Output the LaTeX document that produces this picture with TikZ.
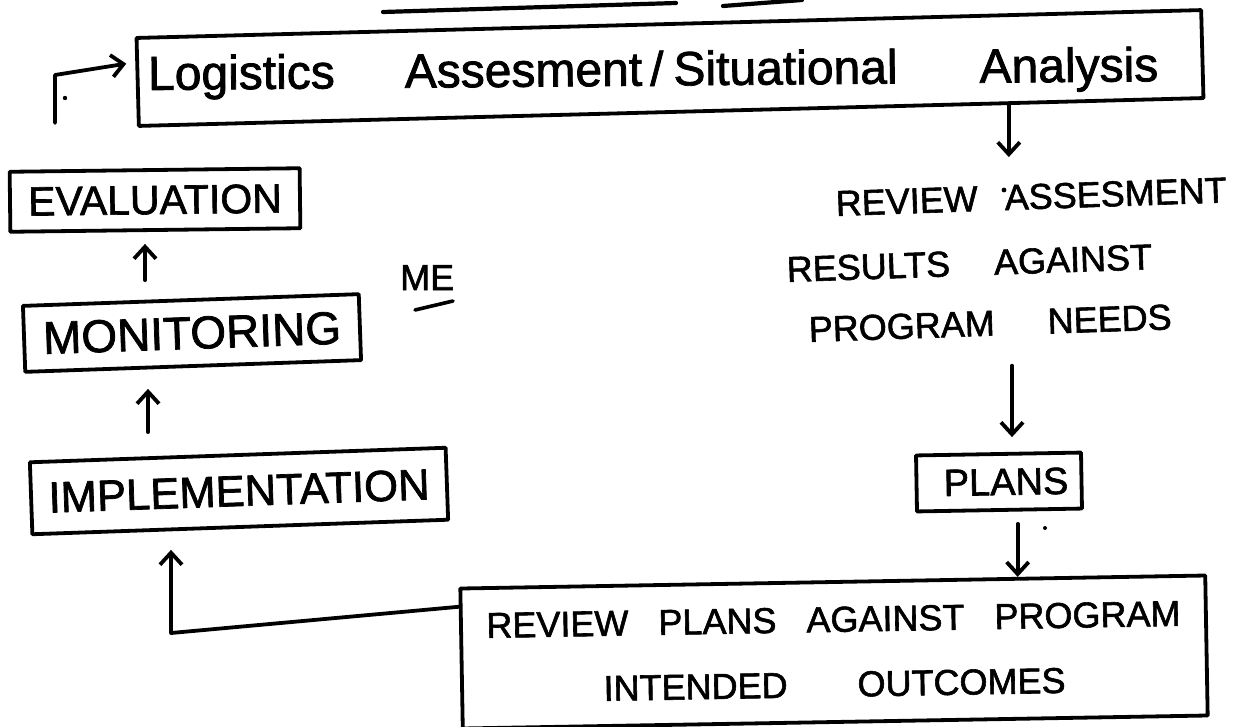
\documentclass[tikz,border=0pt]{standalone}
\usepackage{fontspec}
\setmainfont{Liberation Sans}[BoldFont={Liberation Sans},BoldFeatures={FakeBold=1.6}]
\usetikzlibrary{arrows.meta,calc}
\newcommand\fsz[1]{\fontsize{#1pt}{#1pt}\selectfont\bfseries}
\begin{document}
\begin{tikzpicture}[x=1pt,y=-1pt,
  box/.style={draw, line width=3.8pt, line join=round, inner sep=0pt},
  lbl/.style={inner sep=0pt},
  arr/.style={line width=3.8pt, line cap=round, line join=round, -{Straight Barb[length=12pt,width=22pt]}},
  pen/.style={line width=4.2pt, line cap=round}]
\useasboundingbox (0,0) rectangle (1234,726);
\fill[white] (0,0) rectangle (1234,726);

% top underlines
\draw[pen] (383,12) -- (676,3);
\draw[pen] (723,6) -- (802,0);

% top box
\node[box, rotate=1.5, minimum width=1065pt, minimum height=88pt] (logi) at (670,68) {};
\node[lbl, anchor=base west, rotate=0.5, font=\fsz{48}] (logitxt) at (148,90)
  {Logistics\hspace{70pt}Assesment\hspace{8pt}/\hspace{10pt}Situational\hspace{82pt}Analysis};

% left column
\node[box, rotate=0.7, minimum width=290pt, minimum height=60pt, font=\fsz{41}] (eva) at (155,200) {EVALUATION};
\node[box, rotate=2, minimum width=336pt, minimum height=66pt, font=\fsz{46}] (mon) at (192,333) {MONITORING};
\node[box, rotate=2, minimum width=416pt, minimum height=72pt, font=\fsz{43.6}] (impl) at (239,491) {IMPLEMENTATION};
\node[lbl, anchor=base west, font=\fsz{36}] (me) at (400,290) {ME};
\draw[pen, line width=3.6pt] (415,310) -- (453,301);

% right column
\node[lbl, anchor=base west, rotate=2, font=\fsz{36}] (rev1) at (836,216) {REVIEW\hspace{27pt}ASSESMENT};
\node[lbl, anchor=base west, rotate=2, font=\fsz{36}] (rev2) at (787,282) {RESULTS\hspace{44pt}AGAINST};
\node[lbl, anchor=base west, rotate=2, font=\fsz{36}] (rev3) at (809,342) {PROGRAM\hspace{53pt}NEEDS};
\node[box, rotate=1, minimum width=165pt, minimum height=56pt, font=\fsz{38}] (plans) at (999,482) {\hspace*{14pt}PLANS};
\node[box, rotate=1, minimum width=745pt, minimum height=140pt, align=center,
      font=\fontsize{36pt}{65pt}\selectfont\bfseries] (bot) at (834,652)
  {REVIEW\hspace{30pt}PLANS\hspace{30pt}AGAINST\hspace{30pt}PROGRAM\\INTENDED\hspace{70pt}OUTCOMES};

% connectors
\coordinate (p1) at ($(logi.south west)!0.816!(logi.south east)$);
\draw[arr] (p1) -- ++(0,52);
\coordinate (x2) at (1012,0);
\draw[arr] ($(rev3.base -| x2)+(0,30)$) -- ($(plans.north -| x2)+(0,-15)$);
\coordinate (p3) at ($(bot.north west)!0.747!(bot.north east)$);
\draw[arr] ($(plans.south -| p3)+(0,12)$) -- (p3);

\coordinate (ax) at (145,0);
\coordinate (bx) at (148,0);
\draw[arr] ($(mon.north -| ax)+(0,-18)$) -- ($(eva.south -| ax)+(0,12)$);
\draw[arr] ($(impl.north -| bx)+(0,-21)$) -- ($(mon.south -| bx)+(0,21)$);

\coordinate (p4) at ($(bot.north west)!0.14!(bot.south west)$);
\coordinate (c1) at (171,633);
\draw[arr] (p4) -- (c1) -- ($(impl.south -| c1)+(0,21)$);

\coordinate (f0) at (55,123);
\coordinate (f1) at (55,75);
\draw[arr] (f0) -- (f1) -- ($(logi.north west)!0.3!(logi.south west)+(-9,0)$);

% pen specks
\fill (65,98) circle (2.2pt);
\fill (1004,190) circle (2.4pt);
\fill (1045,528) circle (2pt);
\end{tikzpicture}
\end{document}
